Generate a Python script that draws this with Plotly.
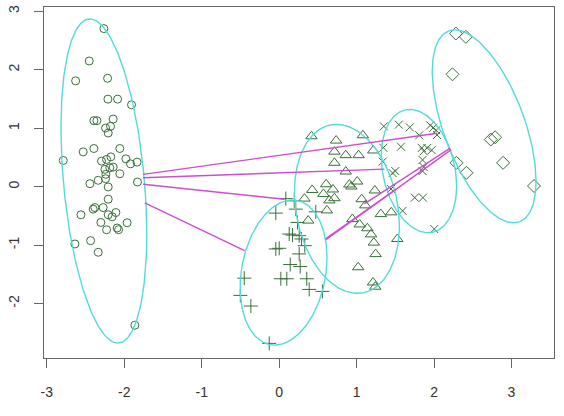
import numpy as np
import plotly.graph_objects as go

# ---- data (component 1 / component 2 scores) ----
circle_x = [-2.263,-2.452,-2.628,-2.215,-2.211,-2.086,-1.906,-2.392,-2.353,-2.143,-2.241,-2.177,-2.207,-2.787,-2.530,-2.392,-2.057,-2.293,-2.228,-2.173,-1.979,-1.919,-1.834,-2.250,-2.186,-2.143,-2.057,-2.237,-2.443,-2.336,-2.241,-1.829,-2.207,-2.207,-2.401,-2.379,-2.272,-2.559,-2.302,-2.207,-2.156,-2.108,-1.963,-2.228,-2.092,-2.073,-2.637,-2.434,-2.336,-1.863]
circle_y = [2.704,2.150,1.810,1.854,1.497,1.497,1.401,1.129,1.129,1.156,1.003,1.032,0.918,0.449,0.595,0.653,0.653,0.437,0.466,0.510,0.476,0.391,0.420,0.296,0.323,0.335,0.221,0.211,0.051,0.109,0.136,0.080,-0.005,-0.214,-0.384,-0.357,-0.357,-0.481,-0.612,-0.481,-0.515,-0.442,-0.617,-0.736,-0.707,-0.736,-0.980,-0.923,-1.122,-2.369]

plus_x = [0.086,0.195,-0.043,0.215,0.473,0.237,0.130,0.173,0.259,0.289,0.331,-0.043,0.001,0.259,0.143,0.272,-0.450,0.022,0.099,0.357,0.388,0.559,-0.501,-0.365,-0.128]
plus_y = [-0.204,-0.243,-0.452,-0.384,-0.430,-0.612,-0.810,-0.827,-0.838,-0.895,-1.009,-1.065,-1.054,-1.150,-1.332,-1.366,-1.565,-1.575,-1.575,-1.575,-1.757,-1.791,-1.859,-2.041,-2.680]

tri_x = [0.418,1.081,0.736,0.714,0.860,1.026,1.216,0.714,0.860,0.907,0.933,1.008,0.607,0.427,0.572,0.695,0.714,0.649,0.327,1.236,1.066,1.113,0.617,0.375,0.946,1.040,1.139,1.187,1.223,1.313,1.448,1.526,1.246,1.021,1.213,1.242]
tri_y = [0.862,0.879,0.789,0.599,0.539,0.539,0.619,0.408,0.259,0.037,0.003,0.088,0.041,-0.056,-0.124,-0.048,-0.197,-0.235,-0.204,-0.065,-0.214,-0.320,-0.406,-0.580,-0.554,-0.646,-0.711,-0.816,-0.957,-0.469,-0.439,-0.895,-1.153,-1.378,-1.638,-1.711]

xm_x = [1.352,1.545,1.687,1.951,1.990,2.028,1.809,2.039,1.573,1.345,1.842,1.867,1.912,1.970,1.336,1.852,1.867,1.500,1.465,1.852,1.445,1.751,1.857,1.594,2.003]
xm_y = [1.032,1.061,1.015,1.049,1.007,0.964,0.879,0.884,0.684,0.667,0.663,0.607,0.663,0.624,0.429,0.457,0.335,0.267,0.233,0.267,-0.039,-0.187,-0.187,-0.413,-0.724]

dia_x = [2.282,2.411,2.238,2.733,2.789,2.892,2.290,2.419,3.291]
dia_y = [2.619,2.563,1.922,0.806,0.845,0.408,0.408,0.238,0.012]

# cluster ellipses: centre, half-width, half-height, y-offset at the x-extreme
ell_cx = [-2.263, 0.057, 0.875, 1.805, 2.647]
ell_cy = [0.097, -1.468, -0.379, 0.267, 1.032]
ell_w = [0.554, 0.561, 0.677, 0.487, 0.670]
ell_h = [2.772, 1.241, 1.446, 1.054, 1.650]
ell_k = [-0.901, 0.255, -0.289, -0.255, -0.935]

# distance segments between clusters
seg_x0 = [-1.756, -1.756, -1.756, -1.735, 0.604, 0.604, 1.101]
seg_y0 = [0.211, 0.153, 0.041, -0.277, -0.906, -0.889, -0.294]
seg_x1 = [2.041, 1.358, 0.069, -0.446, 2.222, 1.513, 2.209]
seg_y1 = [0.913, 0.301, -0.214, -1.094, 0.633, -0.039, 0.658]

x_ticks = [-3, -2, -1, 0, 1, 2, 3]
y_ticks = [-2, -1, 0, 1, 2, 3]

# ---- figure ----
PT = "#3a6e3a"
fig = go.Figure()

groups = [
    (circle_x, circle_y, "circle-open", 8),
    (plus_x, plus_y, "cross-thin-open", 10),
    (tri_x, tri_y, "triangle-up-open", 10),
    (xm_x, xm_y, "x-thin-open", 8),
    (dia_x, dia_y, "diamond-open", 10),
]
for gx, gy, sym, sz in groups:
    fig.add_trace(go.Scatter(
        x=gx, y=gy, mode="markers",
        marker=dict(symbol=sym, size=sz, color=PT, line=dict(color=PT, width=1)),
        showlegend=False, hoverinfo="skip"))

t = np.linspace(0, 2 * np.pi, 241)
ex, ey = [], []
for cx, cy, w, h, k in zip(ell_cx, ell_cy, ell_w, ell_h, ell_k):
    ex += list(cx + w * np.cos(t)) + [None]
    ey += list(cy + k * np.cos(t) + np.sqrt(h * h - k * k) * np.sin(t)) + [None]
fig.add_trace(go.Scatter(x=ex, y=ey, mode="lines",
                         line=dict(color="#55dada", width=1.4),
                         showlegend=False, hoverinfo="skip"))

sx, sy = [], []
for a, b, c, d in zip(seg_x0, seg_y0, seg_x1, seg_y1):
    sx += [a, c, None]
    sy += [b, d, None]
fig.add_trace(go.Scatter(x=sx, y=sy, mode="lines",
                         line=dict(color="#cc4fcc", width=1.4),
                         showlegend=False, hoverinfo="skip"))

axis_common = dict(
    showgrid=False, zeroline=False, showline=True, mirror=True,
    linecolor="#666666", linewidth=1, ticks="outside", ticklen=9,
    tickcolor="#666666", tickwidth=1,
    tickfont=dict(family="Liberation Sans, Arial, sans-serif", size=14, color="#333333"),
)
fig.update_xaxes(range=[-3.036, 3.549], tickvals=x_ticks,
                 ticktext=[str(v) for v in x_ticks], ticklabelstandoff=12, **axis_common)
fig.update_yaxes(range=[-2.930, 3.073], tickvals=y_ticks,
                 ticktext=[str(v) for v in y_ticks], tickangle=-90, ticklabelstandoff=9,
                 **axis_common)

fig.update_layout(
    width=564, height=416, autosize=False,
    margin=dict(l=44, r=10, t=5, b=58),
    plot_bgcolor="white", paper_bgcolor="white",
)
fig.write_html("out.html")
